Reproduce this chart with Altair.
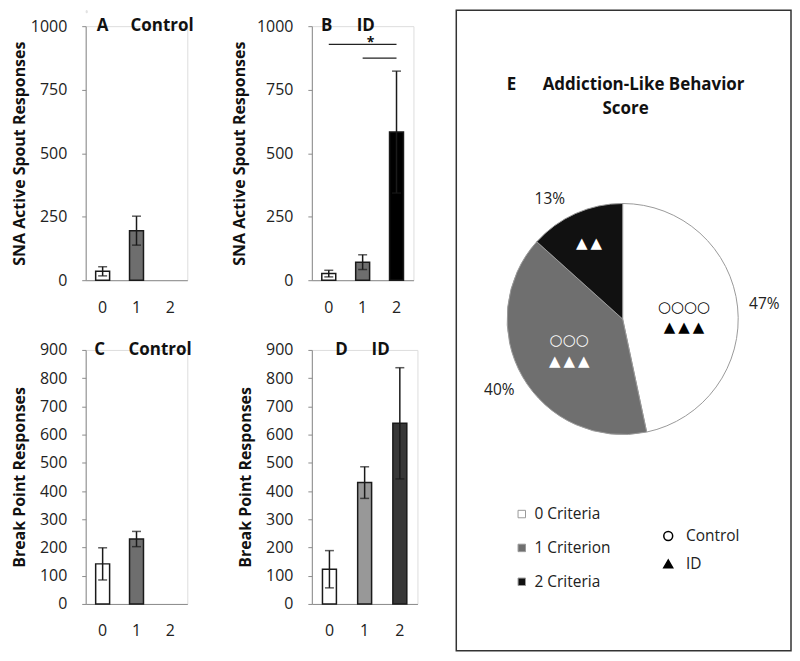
import altair as alt
import pandas as pd

# ---------------- data ----------------
categories = ["0", "1", "2"]

a_means = [35, 195]
a_errs = [18, 57]
b_means = [26, 71, 583]
b_errs = [13, 29, 240]
c_means = [142, 230]
c_errs = [57, 27]
d_means = [123, 430, 640]
d_errs = [66, 56, 197]

sig_from = ["0", "1"]
sig_to = ["2", "2"]
sig_level = [928, 874]

crit_labels = ["0 Criteria", "1 Criterion", "2 Criteria"]
crit_counts = [7, 6, 2]
pct_labels = ["47%", "40%", "13%"]
control_counts = [4, 3, 0]
id_counts = [3, 3, 2]
groups = ["Control", "ID"]

# ---------------- style ----------------
FONT = "Open Sans"
SYM_FONT = "DejaVu Sans"
INK = "#1a1a1a"
AXIS_GRAY = "#8c8c8c"
colors_a = ["#ffffff", "#6e6e6e"]
colors_b = ["#ffffff", "#6e6e6e", "#000000"]
colors_c = ["#ffffff", "#6e6e6e"]
colors_d = ["#ffffff", "#989898", "#383838"]
pie_colors = ["#ffffff", "#6f6f6f", "#111111"]
PH = 255


def bar_panel(means, errs, colors, ymax, ystep, ytitle, letter, group,
              title_x, letter_dx, group_dx, width, sig=False):
    n = len(means)
    df = pd.DataFrame({
        "cat": categories[:n],
        "mean": means,
        "lo": [m - e for m, e in zip(means, errs)],
        "hi": [m + e for m, e in zip(means, errs)],
        "fill": colors,
    })
    yvals = list(range(0, ymax + 1, ystep))
    x = alt.X("cat:N",
              scale=alt.Scale(domain=categories, paddingInner=0, paddingOuter=0),
              axis=alt.Axis(title=None, labelAngle=0, ticks=False, labelPadding=19,
                            labelFontSize=16, labelFont=FONT, labelColor="#222",
                            domainColor=AXIS_GRAY, domainWidth=1))
    y = alt.Y("mean:Q",
              scale=alt.Scale(domain=[0, ymax], nice=False),
              axis=alt.Axis(title=ytitle, values=yvals, tickCount=len(yvals),
                            format="d", grid=False, tickSize=4, tickColor=AXIS_GRAY,
                            domainColor=AXIS_GRAY, labelPadding=15, labelFontSize=16,
                            labelOverlap=False, labelFont=FONT, labelColor="#222",
                            titleFont=FONT, titleFontSize=16, titleFontWeight="bold",
                            titleColor="#111", titleX=title_x, titleY=PH / 2))
    base = alt.Chart(df)
    bars = base.mark_bar(size=14, stroke=INK, strokeWidth=1.5).encode(
        x=x, y=y, color=alt.Color("fill:N", scale=None))
    err = base.mark_rule(color=INK, strokeWidth=1.5).encode(
        x="cat:N", y="lo:Q", y2="hi:Q")
    caps_lo = base.mark_tick(orient="horizontal", size=9, thickness=1.5, color=INK).encode(
        x="cat:N", y="lo:Q")
    caps_hi = base.mark_tick(orient="horizontal", size=9, thickness=1.5, color=INK).encode(
        x="cat:N", y="hi:Q")
    lab = pd.DataFrame({"cat": ["0", "1"], "mean": [ymax, ymax], "t": [letter, group]})
    letter_t = alt.Chart(lab.iloc[[0]]).mark_text(
        font=FONT, fontSize=17, fontWeight="bold", color="#111", align="center",
        baseline="middle", dx=letter_dx).encode(x="cat:N", y="mean:Q", text="t:N")
    group_t = alt.Chart(lab.iloc[[1]]).mark_text(
        font=FONT, fontSize=17, fontWeight="bold", color="#111", align="left",
        baseline="middle", dx=group_dx).encode(x="cat:N", y="mean:Q", text="t:N")
    layers = [bars, err, caps_lo, caps_hi, letter_t, group_t]
    if sig:
        sdf = pd.DataFrame({"cat": sig_from, "cat2": sig_to, "mean": sig_level})
        lines = alt.Chart(sdf).mark_rule(color="#222", strokeWidth=1.3).encode(
            x="cat:N", x2="cat2:N", y="mean:Q")
        star = alt.Chart(pd.DataFrame({"cat": ["1"], "mean": [sig_level[0]], "t": ["*"]})).mark_text(
            font=FONT, fontSize=14, fontWeight="bold", color="#111", align="center",
            baseline="alphabetic", dx=8, dy=3).encode(x="cat:N", y="mean:Q", text="t:N")
        layers += [lines, star]
    return alt.layer(*layers).properties(width=width, height=PH)


A = bar_panel(a_means, a_errs, colors_a, 1000, 250, "SNA Active Spout Responses",
              "A", "Control", -58, 0, -6, 102)
B = bar_panel(b_means, b_errs, colors_b, 1000, 250, "SNA Active Spout Responses",
              "B", "ID", -65, -2, -6, 102, sig=True)
C = bar_panel(c_means, c_errs, colors_c, 900, 100, "Break Point Responses",
              "C", "Control", -58, -3, -8, 102)
D = bar_panel(d_means, d_errs, colors_d, 900, 100, "Break Point Responses",
              "D", "ID", -59, 12, 7, 106)

grid = alt.concat(A, B, C, D, columns=2, bounds="flush",
                  spacing={"column": 125, "row": 70})

spacer = alt.Chart(pd.DataFrame({"v": [0]})).mark_point(opacity=0, size=0).encode(
    x=alt.value(0), y=alt.value(1)).properties(width=1, height=2)

left = alt.vconcat(spacer, grid, spacing=3)

# ---------------- pie panel E ----------------
THIN = "\u2009"
sym = []
for c, i in zip(control_counts, id_counts):
    parts = [s for s in ["○" * c, THIN.join("▲" * i)] if s]
    sym.append("\n".join(parts))

pie_df = pd.DataFrame({
    "idx": list(range(len(crit_labels))),
    "crit": crit_labels,
    "count": crit_counts,
    "pct": pct_labels,
    "sym": sym,
})

EW, EH = 336, 643
CX, CY = 167, 310

pbase = alt.Chart(pie_df).encode(
    theta=alt.Theta("count:Q", stack=True),
    order=alt.Order("idx:Q"),
    x=alt.value(CX), y=alt.value(CY),
)
arc = pbase.mark_arc(outerRadius=116, stroke="#9a9a9a", strokeWidth=1).encode(
    color=alt.Color("crit:N",
                    scale=alt.Scale(domain=crit_labels, range=pie_colors),
                    legend=alt.Legend(title=None, orient="none", legendX=58, legendY=498,
                                      symbolType="square", symbolSize=56,
                                      symbolStrokeColor="#9a9a9a", symbolStrokeWidth=1,
                                      labelFont=FONT, labelFontSize=15.5, labelColor="#222",
                                      rowPadding=17, labelOffset=5, padding=0)))
pct_main = pbase.transform_calculate(t="datum.idx < 2 ? datum.pct : ''").mark_text(
    radius=143, font=FONT, fontSize=15.5, color="#222").encode(text="t:N")
pct_small = pbase.transform_calculate(t="datum.idx == 2 ? datum.pct : ''").mark_text(
    radius=143, font=FONT, fontSize=15.5, color="#222", dx=-15, dy=10).encode(text="t:N")
sym_black = pbase.transform_calculate(t="datum.idx == 0 ? datum.sym : ''").mark_text(
    radius=62, font=SYM_FONT, fontSize=15, color="#000", lineBreak="\n", lineHeight=21,
    baseline="middle", dy=-6).encode(text="t:N")
sym_white = pbase.transform_calculate(t="datum.idx == 1 ? datum.sym : ''").mark_text(
    radius=62, font=SYM_FONT, fontSize=15, color="#fff", lineBreak="\n", lineHeight=21,
    baseline="middle", dy=-10).encode(text="t:N")
sym_white2 = pbase.transform_calculate(t="datum.idx == 2 ? datum.sym : ''").mark_text(
    radius=83, font=SYM_FONT, fontSize=15, color="#fff", lineBreak="\n", lineHeight=21,
    baseline="middle").encode(text="t:N")

NB = "\u00a0"
title1 = alt.Chart(pd.DataFrame({"t": ["E" + NB * 6 + "Addiction-Like Behavior"]})).mark_text(
    font=FONT, fontSize=17, fontWeight="bold", color="#111", align="center", baseline="middle"
).encode(text="t:N", x=alt.value(170), y=alt.value(75))
title2 = alt.Chart(pd.DataFrame({"t": ["Score"]})).mark_text(
    font=FONT, fontSize=17, fontWeight="bold", color="#111", align="center", baseline="middle"
).encode(text="t:N", x=alt.value(170), y=alt.value(99))

grp_legend = alt.Legend(title=None, orient="none", legendX=205, legendY=520,
                        labelFont=FONT, labelFontSize=15.5, labelColor="#222",
                        rowPadding=11, labelOffset=10, padding=0, symbolOpacity=1,
                        symbolSize=80, symbolStrokeWidth=1.5)
grp = alt.Chart(pd.DataFrame({"group": groups})).mark_point(
    filled=False, opacity=0, color="#000", strokeWidth=1.5, size=80).encode(
    shape=alt.Shape("group:N", scale=alt.Scale(domain=groups, range=["circle", "triangle-up"]),
                    legend=grp_legend),
    fill=alt.Fill("group:N", scale=alt.Scale(domain=groups, range=["#ffffff", "#000000"]),
                  legend=grp_legend),
)

E = alt.layer(arc, pct_main, pct_small, sym_black, sym_white, sym_white2,
              title1, title2, grp).properties(
    width=EW, height=EH,
    view=alt.ViewBackground(stroke="#333333", strokeWidth=1.5))

chart = alt.hconcat(left, E, spacing=37).resolve_scale(
    color="independent", fill="independent", shape="independent"
).properties(
    padding={"left": 3, "top": 0, "right": 0, "bottom": 0}
).configure_view(strokeWidth=0).configure(font=FONT)

chart.save("out.html", embed_options={"renderer": "svg", "actions": False})
